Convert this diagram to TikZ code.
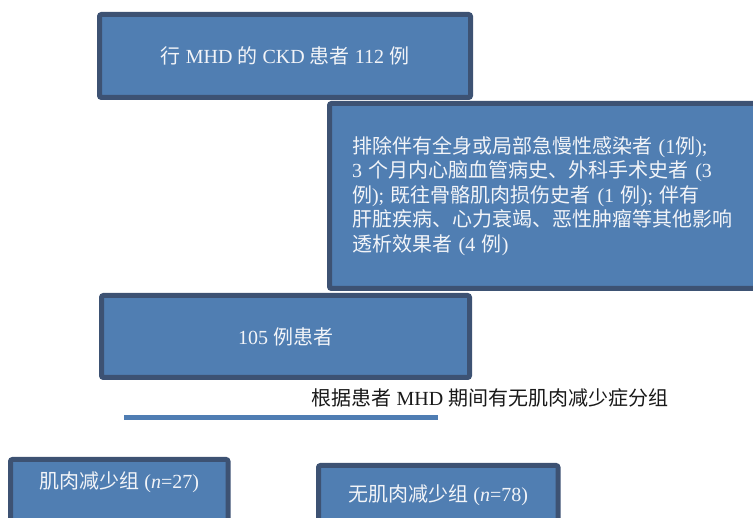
\documentclass[tikz,border=0pt]{standalone}
\usepackage{fontspec}
\setmainfont{Liberation Serif}
\newfontfamily\zhfont{Noto Sans CJK SC}
\newcommand\zh[1]{{\zhfont #1}}
\definecolor{boxfill}{HTML}{507EB2}
\definecolor{boxline}{HTML}{3D5273}
\definecolor{txtw}{HTML}{F2F4F8}
\definecolor{rulec}{HTML}{4F7DB3}
\begin{document}
\begin{tikzpicture}[x=1pt,y=-1pt,
  flowbox/.style={draw=boxline, line width=5pt, fill=boxfill, rounded corners=2pt,
    text=txtw, font=\fontsize{20}{24.5}\selectfont, inner sep=0pt}]
\useasboundingbox (0,0) rectangle (753,518);
\clip (0,0) rectangle (753,518);
\node[flowbox, minimum width=371pt, minimum height=83pt] (b1) at (285,56)
  {\zh{行} MHD \zh{的} CKD \zh{患者} 112 \zh{例}};
\node[flowbox, minimum width=430.5pt, minimum height=185pt, text width=385.5pt, align=left] (b2) at (544.75,196)
  {\zh{排除伴有全身或局部急慢性感染者} (1\zh{例});\\
   3 \zh{个月内心脑血管病史、外科手术史者} (3\\
   \zh{例}); \zh{既往骨骼肌肉损伤史者} (1 \zh{例}); \zh{伴有}\\
   \zh{肝脏疾病、心力衰竭、恶性肿瘤等其他影响}\\
   \zh{透析效果者} (4 \zh{例})};
\node[flowbox, minimum width=368pt, minimum height=82pt] (b3) at (285.5,336.5)
  {105 \zh{例患者}};
\node[font=\fontsize{20}{24}\selectfont, text=black!90, inner sep=0pt] (crit) at (490,398)
  {\zh{根据患者} MHD \zh{期间有无肌肉减少症分组}};
\coordinate (l1) at (124,417.5);
\coordinate (l2) at (438,417.5);
\draw[rulec, line width=5pt] (l1) -- (l2);
\node[flowbox, minimum width=217.5pt, minimum height=65.5pt, text height=15pt, text depth=22pt] (b4) at (119.25,492.25)
  {\zh{肌肉减少组} (\textit{n}=27)};
\node[flowbox, minimum width=239.5pt, minimum height=59.5pt] (b5) at (438.25,495.25)
  {\zh{无肌肉减少组} (\textit{n}=78)};
\end{tikzpicture}
\end{document}
